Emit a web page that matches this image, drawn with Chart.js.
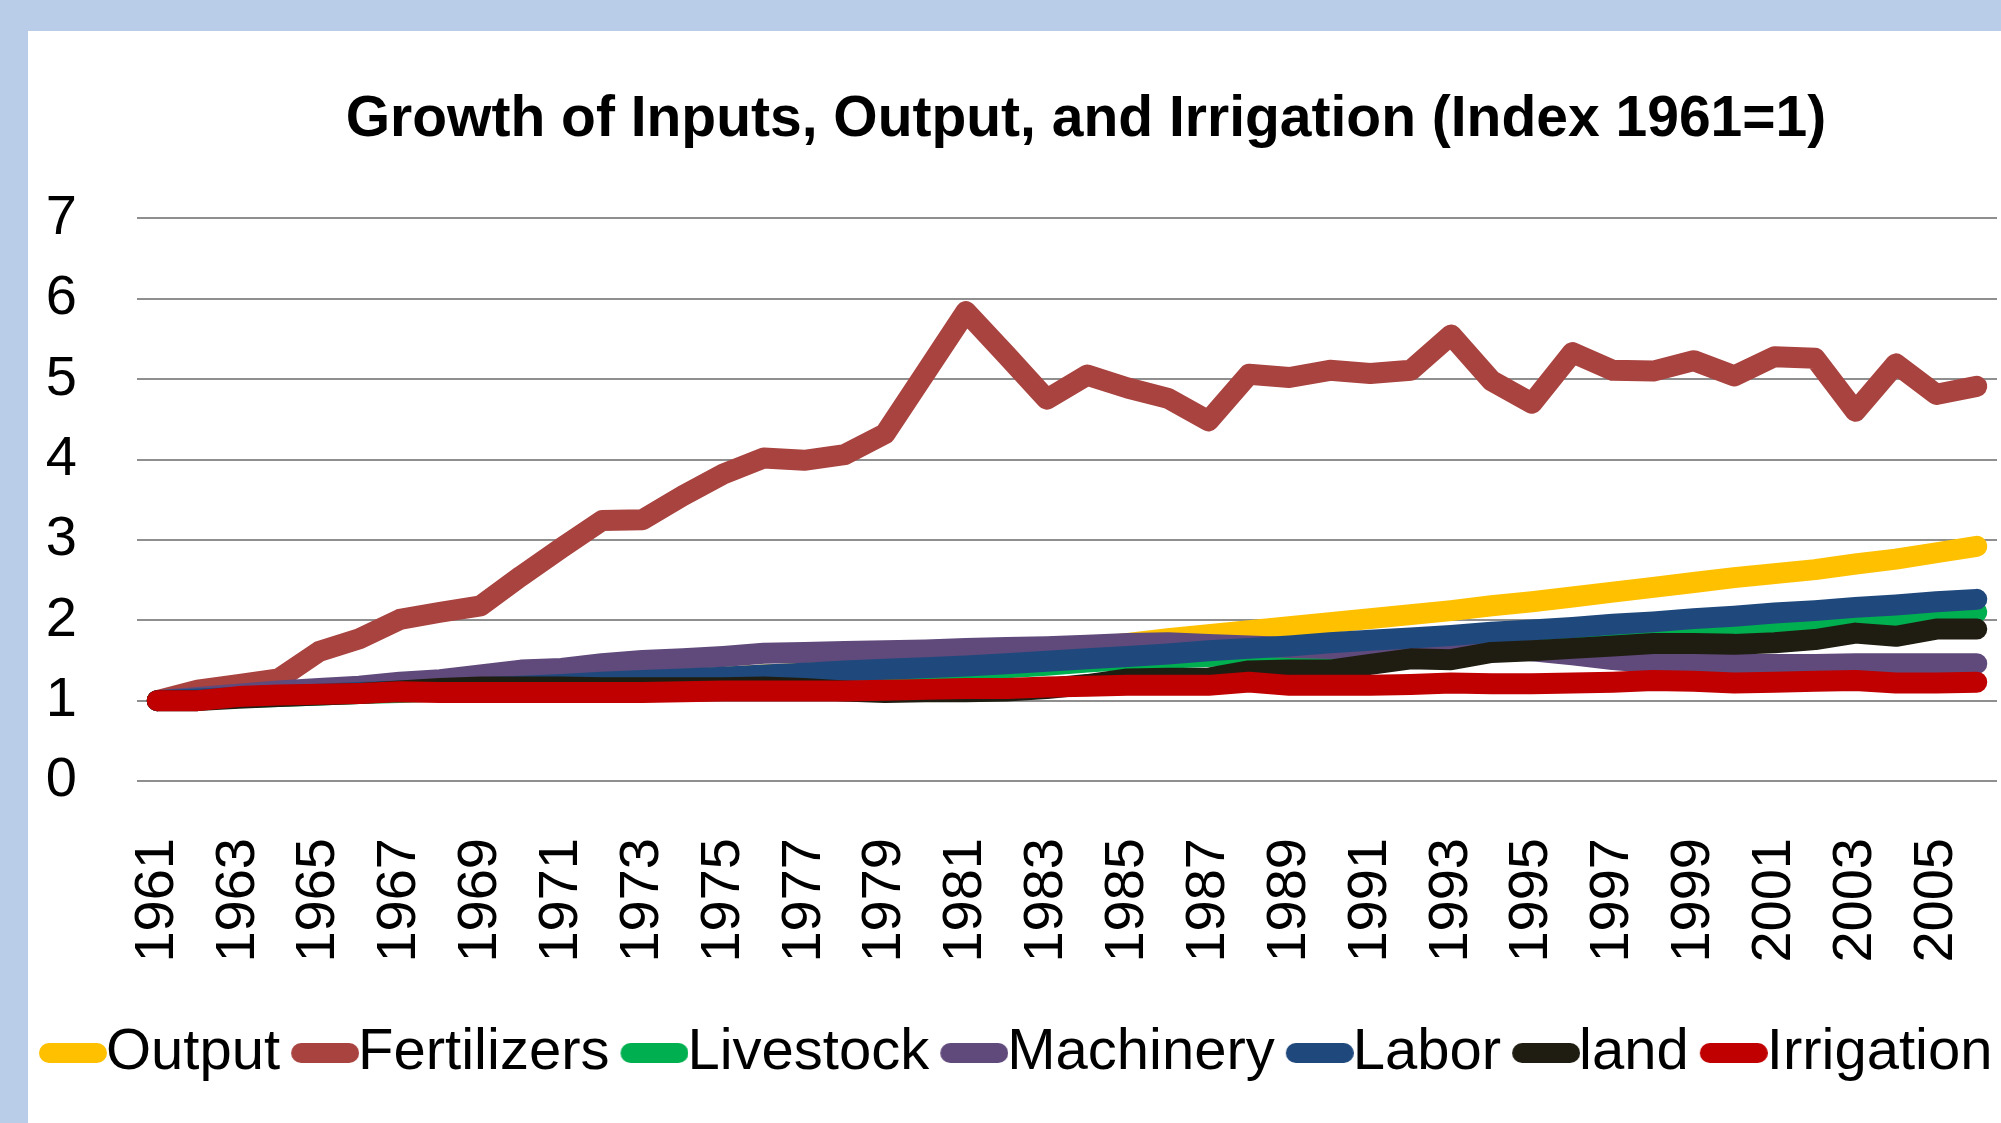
<!DOCTYPE html>
<html>
<head>
<meta charset="utf-8">
<title>Growth of Inputs, Output, and Irrigation</title>
<script src="https://cdn.jsdelivr.net/npm/chart.js@4.4.1/dist/chart.umd.min.js"></script>
<style>
  html, body { margin: 0; padding: 0; }
  body { width: 2001px; height: 1123px; overflow: hidden; background: #b9cde9; position: relative; }
  #box { position: absolute; left: 28px; top: 31px; width: 2116px; height: 1092px; background: #fff; }
</style>
</head>
<body>
<div id="box"><canvas id="chart" width="2116" height="1092"></canvas></div>
<script>
var years = ['1961','1962','1963','1964','1965','1966','1967','1968','1969','1970',
             '1971','1972','1973','1974','1975','1976','1977','1978','1979','1980',
             '1981','1982','1983','1984','1985','1986','1987','1988','1989','1990',
             '1991','1992','1993','1994','1995','1996','1997','1998','1999','2000',
             '2001','2002','2003','2004','2005','2006'];

var output = [1.00,1.02,1.04,1.06,1.08,1.10,1.12,1.14,1.16,1.18,
              1.20,1.22,1.25,1.27,1.29,1.32,1.34,1.38,1.42,1.46,
              1.50,1.55,1.60,1.66,1.71,1.77,1.82,1.87,1.92,1.97,
              2.02,2.07,2.12,2.18,2.23,2.29,2.35,2.41,2.47,2.53,
              2.58,2.63,2.70,2.76,2.84,2.92];
var fertilizers = [1.00,1.13,1.20,1.27,1.61,1.77,2.01,2.10,2.18,2.55,
                   2.90,3.24,3.25,3.55,3.82,4.02,3.99,4.06,4.32,5.08,
                   5.84,5.30,4.75,5.05,4.89,4.76,4.48,5.06,5.02,5.11,
                   5.07,5.11,5.55,4.98,4.70,5.33,5.11,5.10,5.23,5.04,
                   5.28,5.26,4.60,5.19,4.81,4.91];
var livestock = [1.00,1.02,1.04,1.05,1.07,1.09,1.10,1.12,1.14,1.16,
                 1.18,1.20,1.22,1.24,1.26,1.28,1.30,1.32,1.34,1.36,
                 1.38,1.41,1.44,1.48,1.51,1.53,1.55,1.58,1.60,1.62,
                 1.65,1.68,1.70,1.73,1.75,1.78,1.80,1.83,1.86,1.88,
                 1.91,1.94,1.97,2.00,2.05,2.10];
var machinery = [1.00,1.04,1.08,1.12,1.15,1.18,1.23,1.26,1.32,1.38,
                 1.40,1.46,1.50,1.52,1.55,1.59,1.60,1.61,1.62,1.63,
                 1.65,1.66,1.67,1.69,1.71,1.72,1.70,1.68,1.66,1.65,
                 1.66,1.67,1.68,1.66,1.62,1.57,1.51,1.47,1.45,1.45,
                 1.45,1.45,1.46,1.46,1.46,1.46];
var labor = [1.00,1.02,1.04,1.06,1.08,1.10,1.12,1.14,1.16,1.18,
             1.20,1.23,1.25,1.27,1.29,1.32,1.34,1.37,1.39,1.41,
             1.43,1.46,1.49,1.52,1.55,1.58,1.62,1.65,1.68,1.72,
             1.75,1.78,1.81,1.85,1.88,1.91,1.95,1.98,2.02,2.05,
             2.09,2.12,2.16,2.19,2.23,2.26];
var land = [1.00,1.00,1.03,1.05,1.07,1.09,1.12,1.15,1.17,1.17,
            1.17,1.16,1.16,1.16,1.16,1.17,1.15,1.12,1.10,1.11,
            1.11,1.12,1.15,1.20,1.27,1.28,1.28,1.37,1.38,1.38,
            1.45,1.52,1.51,1.60,1.62,1.65,1.68,1.71,1.71,1.70,
            1.72,1.76,1.84,1.80,1.89,1.89];
var irrigation = [1.00,1.00,1.05,1.07,1.08,1.09,1.11,1.10,1.10,1.10,
                  1.10,1.10,1.10,1.11,1.12,1.12,1.12,1.12,1.13,1.14,
                  1.15,1.15,1.17,1.18,1.19,1.19,1.19,1.23,1.19,1.19,
                  1.19,1.20,1.22,1.21,1.21,1.22,1.23,1.25,1.24,1.22,
                  1.23,1.24,1.25,1.22,1.22,1.23];

var yMin = 0, yMax = 7, yStep = 1;
var FONT = 'Liberation Sans';

// rounded bar used as legend marker (drawn offset so the text sits right after it)
function legendMarker(color){
    var c = document.createElement('canvas');
    c.width = 92; c.height = 24;
    var g = c.getContext('2d');
    g.strokeStyle = color;
    g.lineWidth = 20;
    g.lineCap = 'round';
    g.beginPath();
    g.moveTo(34, 12);
    g.lineTo(82, 12);
    g.stroke();
    return c;
}

function series(label, values, color, order){
    return {
        label: label,
        data: values,
        borderColor: color,
        backgroundColor: color,
        borderWidth: 21,
        borderCapStyle: 'round',
        borderJoinStyle: 'round',
        pointRadius: 0,
        pointHoverRadius: 0,
        pointStyle: legendMarker(color),
        tension: 0,
        fill: false,
        order: order
    };
}

var ctx = document.getElementById('chart').getContext('2d');
var myChart = new Chart(ctx, {
    type: 'line',
    data: {
        labels: years,
        datasets: [
            series('Output', output, '#ffc000', 7),
            series('Fertilizers', fertilizers, '#a8433f', 6),
            series('Livestock', livestock, '#00b050', 5),
            series('Machinery', machinery, '#604a7b', 4),
            series('Labor', labor, '#1f497d', 3),
            series('land', land, '#1f1d12', 2),
            series('Irrigation', irrigation, '#c00000', 1)
        ]
    },
    options: {
        responsive: false,
        animation: false,
        layout: { padding: { left: 0, right: 0, top: 0, bottom: 31 } },
        plugins: {
            title: {
                display: true,
                text: 'Growth of Inputs, Output, and Irrigation (Index 1961=1)',
                color: '#000',
                font: { family: FONT, size: 57, weight: 'bold', lineHeight: 1.2 },
                padding: { top: 55, bottom: 64 }
            },
            legend: {
                position: 'bottom',
                align: 'start',
                labels: {
                    usePointStyle: true,
                    pointStyleWidth: 32,
                    padding: 17,
                    color: '#000',
                    font: { family: FONT, size: 58 },
                    sort: function(a, b){ return a.datasetIndex - b.datasetIndex; }
                }
            },
            tooltip: { enabled: false }
        },
        scales: {
            x: {
                offset: true,
                grid: { display: false, drawTicks: false },
                border: { display: false },
                ticks: {
                    autoSkip: false,
                    minRotation: 90,
                    maxRotation: 90,
                    padding: 57,
                    color: '#000',
                    font: { family: FONT, size: 56 },
                    callback: function(v, i){ return i % 2 === 0 ? this.getLabelForValue(v) : ''; }
                },
                afterFit: function(s){
                    s.height = 226;
                    s.paddingLeft = 0;
                    s.paddingRight = 147;
                }
            },
            y: {
                min: yMin,
                max: yMax,
                ticks: {
                    stepSize: yStep,
                    padding: 60,
                    color: '#000',
                    font: { family: FONT, size: 56 }
                },
                grid: { color: '#8f8f8f', lineWidth: 2, drawTicks: false },
                border: { display: false },
                afterFit: function(s){ s.width = 109; }
            }
        }
    }
});
</script>
</body>
</html>
